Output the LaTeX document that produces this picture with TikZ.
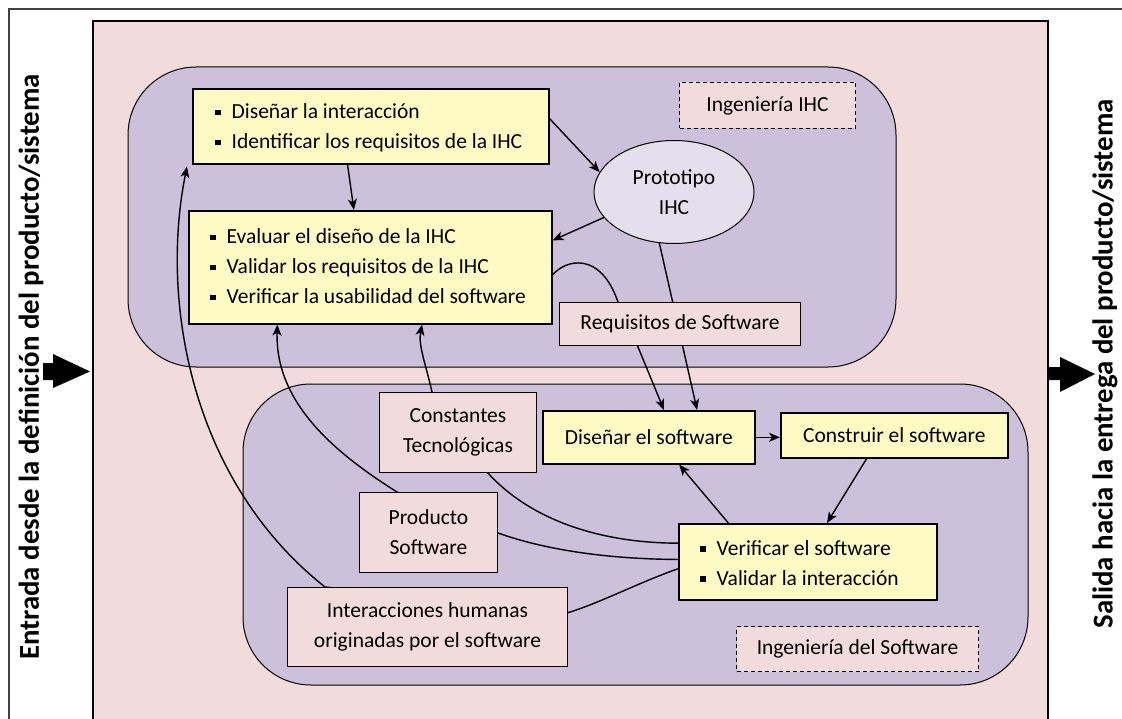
\documentclass[tikz,border=0pt]{standalone}
\usepackage{fontspec}
\setmainfont{Carlito}
\usetikzlibrary{shapes.geometric,arrows.meta,calc}
\definecolor{rosa}{HTML}{F2DCDB}
\definecolor{lila}{HTML}{CCC0DA}
\definecolor{amarillo}{HTML}{FFF9C4}
\definecolor{ovalo}{HTML}{E4DFEC}
\pgfdeclarelayer{back}
\pgfdeclarelayer{lines}
\pgfsetlayers{back,lines,main}
% small square bullet for the task lists
\newcommand\bul{\rule[3.5pt]{5.5pt}{5.5pt}\hspace{11pt}}
\newcommand\boxfont{\fontsize{21.5}{30}\selectfont}
\begin{document}
\begin{tikzpicture}[x=1pt,y=-1pt,
  txt/.style={font=\boxfont, inner sep=0pt, align=left},
  ybox/.style={draw, line width=1.6pt, fill=amarillo, inner sep=0pt, anchor=north west,
    font=\boxfont, align=center},
  pbox/.style={draw, line width=1pt, fill=rosa, inner sep=0pt, anchor=north west,
    font=\boxfont, align=center},
  dbox/.style={pbox, dash pattern=on 4pt off 3pt},
  conn/.style={line width=1.4pt, -{Stealth[length=11pt,width=9pt,inset=3pt]}},
  side/.style={rotate=90, font=\bfseries\fontsize{28.8}{34}\selectfont, inner sep=0pt}]
\clip (0,0) rectangle (1122,719);

% frames and the two engineering areas
\begin{pgfonlayer}{back}
  \fill[white] (0,0) rectangle (1122,719);
  \draw[line width=1.2pt, black!75] (9,9) rectangle (1140,740);
  \draw[line width=2pt, fill=rosa] (93,21) rectangle (1048,740);
  \draw[line width=1pt, fill=lila, rounded corners=68pt] (128,67) rectangle (896,367);
  \draw[line width=1pt, fill=lila, rounded corners=68pt] (243,384) rectangle (1028,685);
\end{pgfonlayer}

% side labels and block arrows
\node[side] (entrada) at (31,367) {Entrada desde la definición del producto/sistema};
\node[side] (salida) at (1105,364) {Salida hacia la entrega del producto/sistema};
\fill (43,363) -- (53,363) -- (53,354) -- (90,371.5) -- (53,388) -- (53,380) -- (43,380) -- cycle;
\fill (1047,367) -- (1060,367) -- (1060,357) -- (1095,374) -- (1060,392) -- (1060,380) -- (1047,380) -- cycle;

% HCI engineering
\node[ybox, minimum width=356pt, minimum height=75pt] (b1) at (192,88) {};
\node[txt, anchor=west] (b1t) at ($(b1.west)+(23,1.5)$)
  {\bul Diseñar la interacción\\\bul Identificar los requisitos de la IHC};
\node[ybox, minimum width=363pt, minimum height=113pt] (b2) at (188,210) {};
\node[txt, anchor=west] (b2t) at ($(b2.west)+(22,-1)$)
  {\bul Evaluar el diseño de la IHC\\\bul Validar los requisitos de la IHC\\\bul Verificar la usabilidad del software};
\node[draw, line width=1pt, fill=ovalo, ellipse, minimum width=160pt, minimum height=103pt,
  inner sep=0pt, font=\boxfont, align=center] (proto) at (674,192) {Prototipo\\IHC};
\node[dbox, minimum width=176pt, minimum height=46pt] (ihc) at (679,82) {Ingeniería IHC};
\node[pbox, minimum width=241pt, minimum height=43pt] (req) at (559,302) {Requisitos de Software};

% software engineering
\node[pbox, minimum width=157pt, minimum height=80pt] (const) at (379,392) {Constantes\\Tecnológicas};
\node[pbox, minimum width=138pt, minimum height=80pt] (prod) at (359,492) {Producto\\Software};
\node[pbox, minimum width=280pt, minimum height=79pt] (inter) at (287,587) {Interacciones humanas\\originadas por el software};
\node[ybox, minimum width=212pt, minimum height=53pt] (dsw) at (542,410) {Diseñar el software};
\node[ybox, minimum width=227pt, minimum height=45pt] (csw) at (780,412) {Construir el software};
\node[ybox, minimum width=258pt, minimum height=76pt] (verif) at (678,523) {};
\node[txt, anchor=west] (verift) at ($(verif.west)+(22,1)$)
  {\bul Verificar el software\\\bul Validar la interacción};
\node[dbox, minimum width=242pt, minimum height=45pt] (isw) at (736,626) {Ingeniería del Software};

% connectors
\begin{pgfonlayer}{lines}
  \draw[conn] ($(b1.south west)!0.435!(b1.south east)$) -- ($(b2.north west)!0.455!(b2.north east)$);
  \draw[conn] ($(b1.north east)!0.4!(b1.south east)$) -- (proto.165);
  \draw[conn] (proto.200) -- ($(b2.north east)!0.265!(b2.south east)$);
  \draw[conn] (proto.254) -- ($(dsw.north west)!0.726!(dsw.north east)$);
  \draw[conn] ($(b2.north east)!0.566!(b2.south east)$) .. controls (565,260) and (600,250) .. (618,302)
    -- (638,347) -- ($(dsw.north west)!0.571!(dsw.north east)$);
  \draw[conn] ($(verif.north west)!0.26!(verif.south west)$) .. controls (600,543) and (530,520) .. (487,472)
    -- (432,392) .. controls (426,365) and (418,345) .. ($(b2.south west)!0.642!(b2.south east)$);
  \draw[conn] ($(verif.north west)!0.47!(verif.south west)$) .. controls (600,559) and (540,548) .. (498,533)
    -- (397,492) .. controls (330,450) and (275,400) .. ($(b2.south west)!0.245!(b2.south east)$);
  \draw[conn] ($(verif.north west)!0.59!(verif.south west)$) .. controls (640,582) and (600,603) .. (567,613)
    -- (325,587) .. controls (190,480) and (160,300) .. ($(b1.south west)+(-5,2)$);
  \draw[conn] ($(verif.north west)!0.194!(verif.north east)$) -- ($(dsw.south west)!0.642!(dsw.south east)$);
  \draw[conn] (dsw.east) -- (dsw.east -| csw.west);
  \draw[conn] ($(csw.south west)!0.379!(csw.south east)$) -- ($(verif.north west)!0.574!(verif.north east)$);
\end{pgfonlayer}
\end{tikzpicture}
\end{document}
